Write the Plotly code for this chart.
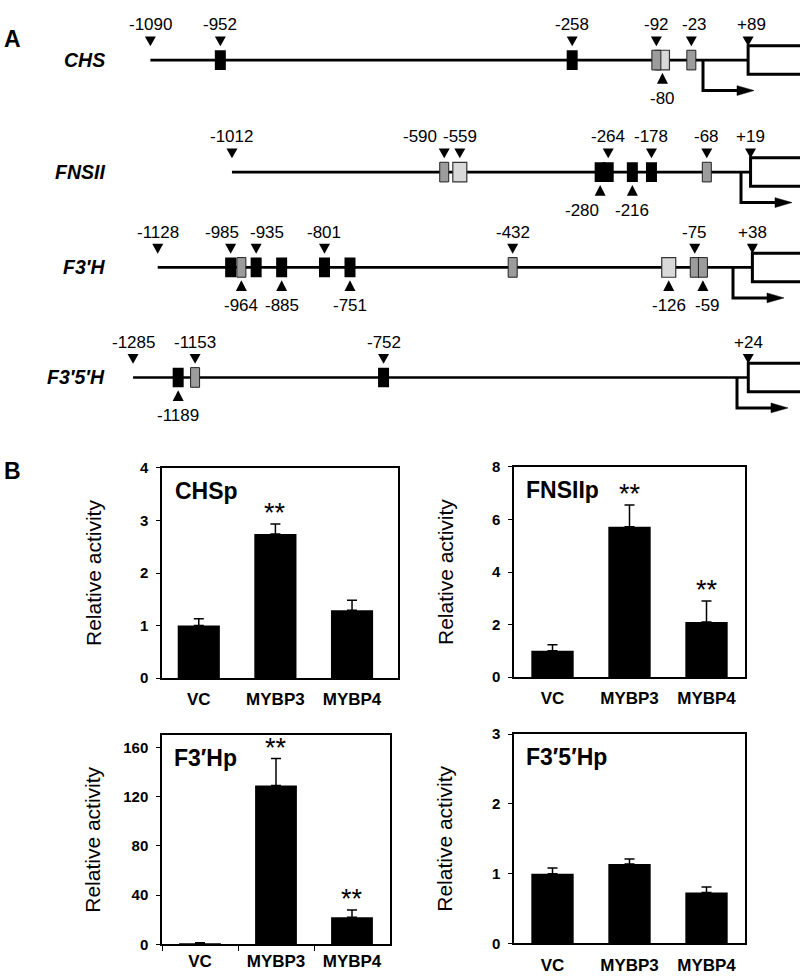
import plotly.graph_objects as go

W, H = 800, 976
FONT = "Liberation Sans, Arial, Helvetica, sans-serif"

# ---------------- Panel A data (promoter maps, bp relative to TSS) ----------------
gene_names = ["CHS", "FNSII", "F3′H", "F3′5′H"]
gene_start = [-1090, -1012, -1128, -1285]
gene_end = [89, 19, 38, 24]

chs_sites = [-952, -258, -92, -80, -23]
chs_kinds = ["B", "B", "H", "L", "H"]
chs_sides = ["up", "up", "up", "down", "up"]

fnsii_sites = [-590, -559, -280, -264, -216, -178, -68]
fnsii_kinds = ["H", "L", "B", "B", "B", "B", "H"]
fnsii_sides = ["up", "up", "down", "up", "down", "up", "up"]

f3h_sites = [-985, -964, -935, -885, -801, -751, -432, -126, -75, -59]
f3h_kinds = ["B", "H", "B", "B", "B", "B", "H", "L", "H", "H"]
f3h_sides = ["up", "down", "up", "down", "up", "down", "up", "down", "up", "down"]

f35h_sites = [-1189, -1153, -752]
f35h_kinds = ["B", "H", "B"]
f35h_sides = ["down", "up", "up"]

# ---------------- Panel B data (relative promoter activity) ----------------
categories = ["VC", "MYBP3", "MYBP4"]

chsp_mean = [1.0, 2.74, 1.29]
chsp_err = [0.13, 0.19, 0.19]
chsp_sig = ["", "**", ""]

fnsiip_mean = [1.0, 5.72, 2.1]
fnsiip_err = [0.23, 0.83, 0.8]
fnsiip_sig = ["", "**", "**"]

f3hp_mean = [1.0, 129, 22]
f3hp_err = [0.3, 22, 6]
f3hp_sig = ["", "**", "**"]

f35hp_mean = [1.0, 1.14, 0.73]
f35hp_err = [0.08, 0.07, 0.08]
f35hp_sig = ["", "", ""]

# ---------------- layout / style (pixels) ----------------
row_cy = [52, 166, 263, 375]          # centre line of each promoter row
row_x0 = [703, 741, 733, 737]         # pixel of TSS (bp 0)
row_s = [0.507, 0.503, 0.51, 0.47]    # pixels per bp (schematic scale)
label_nudge = {(1, -590): -24, (1, -280): -18, (2, -985): -9, (2, -935): 11, (2, -59): 5,
               (0, -23): 3, (0, 89): 3}
kind_style = {
    "L": dict(w=14, fill="#d9d9d9", lc="#333333", lw=1.2),
    "H": dict(w=9, fill="#9c9c9c", lc="#222222", lw=1.0),
    "B": dict(w=11, fill="black", lc="black", lw=0),
}

fig = go.Figure()
shapes, annotations, layout_axes = [], [], {}

def ax_names(i):
    return ("xaxis" if i == 1 else f"xaxis{i}", "yaxis" if i == 1 else f"yaxis{i}",
            "x" if i == 1 else f"x{i}", "y" if i == 1 else f"y{i}")

gene_sites = [(chs_sites, chs_kinds, chs_sides), (fnsii_sites, fnsii_kinds, fnsii_sides),
              (f3h_sites, f3h_kinds, f3h_sides), (f35h_sites, f35h_kinds, f35h_sides)]

for g in range(4):
    i = g + 1
    xa, ya, xr, yr = ax_names(i)
    cy, x0, s = row_cy[g], row_x0[g], row_s[g]
    xmin, xmax = -x0 / s, (W - x0) / s
    layout_axes[xa] = dict(domain=[0, 1], range=[xmin, xmax], visible=False, anchor=yr, fixedrange=True)
    layout_axes[ya] = dict(domain=[1 - (cy + 50) / H, 1 - (cy - 50) / H], range=[-50, 50],
                           visible=False, anchor=xr, fixedrange=True)
    st, en = gene_start[g], gene_end[g]
    # promoter line
    fig.add_trace(go.Scatter(x=[st, en], y=[0, 0], mode="lines", line=dict(color="black", width=2.6),
                             xaxis=xr, yaxis=yr, showlegend=False, hoverinfo="skip"))
    # gene bracket
    shapes.append(dict(type="path", xref=xr, yref=yr,
                       path=f"M {xmax + 5},14.5 L {en},14.5 L {en},-14.5 L {xmax + 5},-14.5",
                       line=dict(color="black", width=3)))
    # TSS arrow
    shapes.append(dict(type="path", xref=xr, yref=yr,
                       path=f"M 0,0 L 0,-31 L {36 / s},-31",
                       line=dict(color="black", width=3)))
    shapes.append(dict(type="path", xref=xr, yref=yr,
                       path=f"M {34 / s},-26 L {51 / s},-31 L {34 / s},-36 Z",
                       fillcolor="black", line=dict(color="black", width=0.5)))
    sites, kinds, sides = gene_sites[g]
    # boxes (light first, then hatched, then black)
    for kk in ["L", "H", "B"]:
        for p, k in zip(sites, kinds):
            if k != kk:
                continue
            stl = kind_style[k]
            dx = stl["w"] / 2 / s
            shapes.append(dict(type="rect", xref=xr, yref=yr, x0=p - dx, x1=p + dx, y0=-10, y1=10,
                               fillcolor=stl["fill"], line=dict(color=stl["lc"], width=stl["lw"])))
    # triangles + labels
    marks = [(st, "up", f"{st}"), (en, "up", f"+{en}")] + [(p, sd, f"{p}") for p, sd in zip(sites, sides)]
    for p, sd, txt in marks:
        dx = 5.5 / s
        if sd == "up":
            path = f"M {p - dx},24 L {p + dx},24 L {p},14 Z"
            ly = 36
        else:
            path = f"M {p - dx},-24 L {p + dx},-24 L {p},-13 Z"
            ly = -39
        shapes.append(dict(type="path", xref=xr, yref=yr, path=path, fillcolor="black",
                           line=dict(color="black", width=0)))
        annotations.append(dict(xref=xr, yref=yr, x=p, y=ly, text=txt, showarrow=False,
                                xanchor="center", yanchor="middle",
                                xshift=label_nudge.get((g, p), 0),
                                font=dict(family=FONT, size=17, color="black")))
    # gene name
    annotations.append(dict(xref="paper", yref="paper", x=107 / W, y=1 - cy / H, text=gene_names[g],
                            showarrow=False, xanchor="right", yanchor="middle",
                            font=dict(family=FONT, size=19.5, color="black", weight="bold", style="italic")))

# ---------------- Panel B ----------------
charts = [
    ("CHSp", chsp_mean, chsp_err, chsp_sig, [0, 4], [0, 1, 2, 3, 4], (162, 398, 467, 681), [-0.48, 2.6], False),
    ("FNSIIp", fnsiip_mean, fnsiip_err, fnsiip_sig, [0, 8], [0, 2, 4, 6, 8], (514, 745, 466, 680), [-0.5, 2.5], False),
    ("F3′Hp", f3hp_mean, f3hp_err, f3hp_sig, [0, 170], [0, 40, 80, 120, 160], (162, 390, 739, 952), [-0.5, 2.5], True),
    ("F3′5′Hp", f35hp_mean, f35hp_err, f35hp_sig, [0, 3], [0, 1, 2, 3], (514, 745, 738, 951), [-0.5, 2.5], False),
]

for j, (title, mean, err, sig, yrng, ytv, box, xrng, bticks) in enumerate(charts):
    i = 5 + j
    xa, ya, xr, yr = ax_names(i)
    l, r, t, b = box
    fig.add_trace(go.Bar(x=categories, y=mean, width=0.55, marker=dict(color="black", line=dict(width=0)),
                         error_y=dict(type="data", array=err, arrayminus=[0] * len(err), symmetric=False,
                                      color="black", thickness=1.5, width=5),
                         xaxis=xr, yaxis=yr, showlegend=False, hoverinfo="skip"))
    layout_axes[xa] = dict(domain=[l / W, r / W], range=xrng, anchor=yr, type="category",
                           showline=True, mirror=True, linecolor="black", linewidth=1.5,
                           ticks="outside", ticklen=5, tickwidth=1.3,
                           tickcolor="black" if bticks else "rgba(0,0,0,0)",
                           tickson="boundaries" if bticks else "labels",
                           tickfont=dict(family=FONT, size=17, color="black", weight="bold"),
                           showgrid=False, zeroline=False, fixedrange=True)
    layout_axes[ya] = dict(domain=[1 - b / H, 1 - t / H], range=yrng, anchor=xr, tickvals=ytv,
                           showline=True, mirror=True, linecolor="black", linewidth=1.5,
                           ticks="outside", ticklen=4, tickwidth=1.2, tickcolor="black",
                           ticklabelstandoff=5,
                           tickfont=dict(family=FONT, size=15, color="black", weight="bold"),
                           showgrid=False, zeroline=False, fixedrange=True)
    # chart title inside
    annotations.append(dict(xref=f"{xr} domain", yref=f"{yr} domain", x=0.045, y=0.89, text=title,
                            showarrow=False, xanchor="left", yanchor="middle",
                            font=dict(family=FONT, size=23, color="black", weight="bold")))
    # y title
    annotations.append(dict(xref="paper", yref="paper", x=(l - 69) / W, y=1 - (t + b) / 2 / H,
                            text="Relative activity", textangle=-90, showarrow=False,
                            xanchor="center", yanchor="middle",
                            font=dict(family=FONT, size=21, color="black")))
    # significance marks
    for c, m, e, sg in zip(categories, mean, err, sig):
        if sg:
            annotations.append(dict(xref=xr, yref=yr, x=c, y=m + e, text=sg, showarrow=False,
                                    xanchor="center", yanchor="bottom", yshift=-6,
                                    font=dict(family=FONT, size=27, color="black")))

# panel letters
annotations.append(dict(xref="paper", yref="paper", x=2 / W, y=1 - 31 / H, text="A", showarrow=False,
                        xanchor="left", yanchor="middle",
                        font=dict(family=FONT, size=23, color="black", weight="bold")))
annotations.append(dict(xref="paper", yref="paper", x=2 / W, y=1 - 470 / H, text="B", showarrow=False,
                        xanchor="left", yanchor="middle",
                        font=dict(family=FONT, size=23, color="black", weight="bold")))

fig.update_layout(width=W, height=H, margin=dict(l=0, r=0, t=0, b=0), autosize=False,
                  paper_bgcolor="white", plot_bgcolor="rgba(0,0,0,0)",
                  shapes=shapes, annotations=annotations, bargap=0.45, **layout_axes)
fig.write_html("out.html", config={"displayModeBar": False},
               post_script="document.body.style.margin='0px';document.body.style.overflow='hidden';")
